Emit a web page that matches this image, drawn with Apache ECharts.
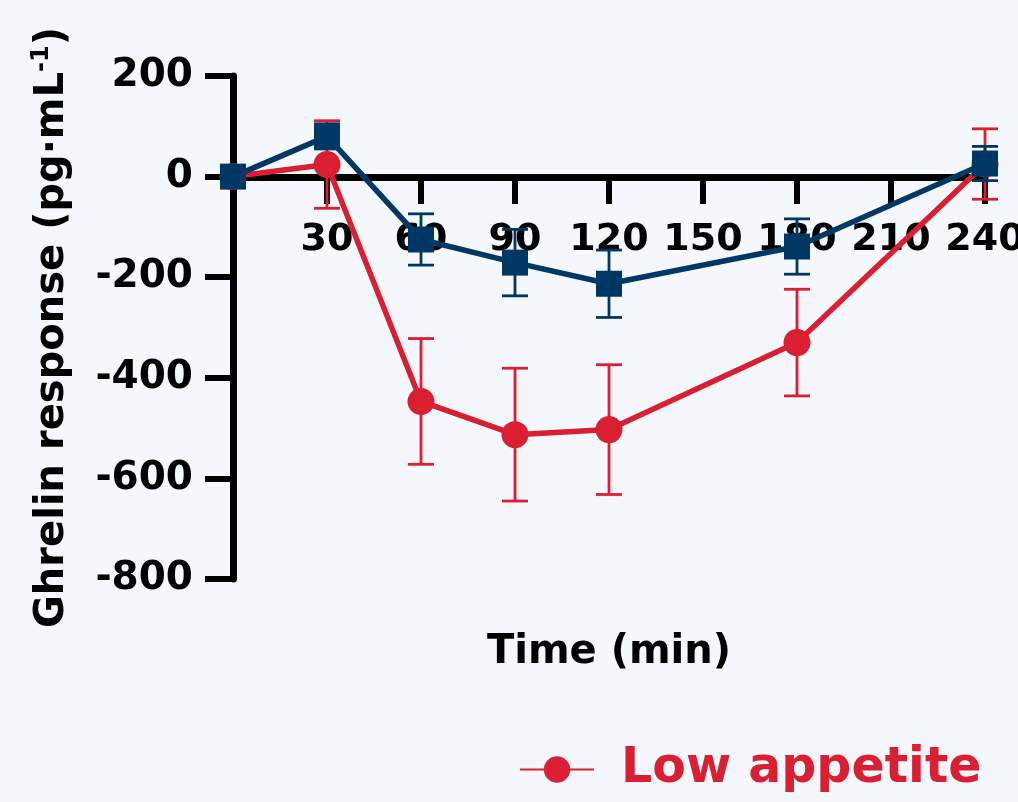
<!DOCTYPE html>
<html>
<head>
<meta charset="utf-8">
<script src="https://cdn.jsdelivr.net/npm/echarts@6/dist/echarts.min.js"></script>
<style>
html,body{margin:0;padding:0;background:#f4f8fc;}
#chart{width:1018px;height:802px;}
</style>
</head>
<body>
<div id="chart"></div>
<script>
const times = [0, 30, 60, 90, 120, 180, 240];
const lowMean = [0, 24, -447, -513, -503, -330, 25];
const lowErr  = [0, 87, 125, 132, 129, 106, 70];
const otherMean = [0, 80, -125, -171, -213, -139, 26];
const otherErr  = [0, 25, 51, 66, 67, 55, 34];
const xTicks = [30, 60, 90, 120, 150, 180, 210, 240];
const yTicks = [-800, -600, -400, -200, 0, 200];

const RED = '#da1f32';
const BLUE = '#003865';
const FONT = 'DejaVu Sans';

function errData(mean, err) {
  return times.map((t, i) => [t, mean[i] - err[i], mean[i] + err[i]]);
}
function errSeries(mean, err, color, z) {
  return {
    type: 'custom',
    z: z,
    silent: true,
    data: errData(mean, err),
    renderItem: function (params, api) {
      const x = api.value(0);
      const lo = api.coord([x, api.value(1)]);
      const hi = api.coord([x, api.value(2)]);
      const w = 13;
      const style = { stroke: color, lineWidth: 2.8, fill: null };
      return {
        type: 'group',
        children: [
          { type: 'line', shape: { x1: lo[0], y1: lo[1], x2: hi[0], y2: hi[1] }, style: style },
          { type: 'line', shape: { x1: lo[0] - w, y1: lo[1], x2: lo[0] + w, y2: lo[1] }, style: style },
          { type: 'line', shape: { x1: hi[0] - w, y1: hi[1], x2: hi[0] + w, y2: hi[1] }, style: style }
        ]
      };
    }
  };
}

const chart = echarts.init(document.getElementById('chart'));
// grid spans y 76..579 for -800..200; the zero line sits 402px above the bottom
chart.setOption({
  backgroundColor: '#f4f8fc',
  animation: false,
  grid: { left: 233, right: 33, top: 76, bottom: 223, containLabel: false, outerBoundsMode: 'none' },
  legend: {
    data: ['Low appetite'],
    left: 514, top: 740,
    itemWidth: 74, itemHeight: 33,
    textStyle: { color: RED, fontSize: 49, fontWeight: 'bold', fontFamily: FONT, padding: [0, 0, 0, 22] }
  },
  xAxis: {
    type: 'value', min: 0, max: 240, interval: 30,
    offset: -402,
    name: 'Time (min)', nameLocation: 'middle', nameGap: 456,
    nameTextStyle: { color: '#000', fontSize: 40, fontWeight: 'bold', fontFamily: FONT },
    axisLine: { onZero: false, lineStyle: { color: '#000', width: 7 } },
    axisTick: { length: 27, lineStyle: { color: '#000', width: 6 } },
    axisLabel: {
      margin: 44, color: '#000', fontSize: 38, fontWeight: 'bold', fontFamily: FONT,
      formatter: v => xTicks.indexOf(v) >= 0 ? String(v) : ''
    },
    splitLine: { show: false }
  },
  yAxis: {
    type: 'value', min: -800, max: 200, interval: 200,
    name: 'Ghrelin response (pg·mL{sup|-1})', nameLocation: 'middle', nameGap: 157,
    nameTextStyle: {
      color: '#000', fontSize: 40, fontWeight: 'bold', fontFamily: FONT,
      rich: { sup: { fontSize: 24, fontWeight: 'bold', fontFamily: FONT, color: '#000', verticalAlign: 'top', padding: [0, 0, 22, 0] } }
    },
    axisLine: { show: true, lineStyle: { color: '#000', width: 7 } },
    axisTick: { show: true, length: 28, lineStyle: { color: '#000', width: 6 } },
    axisLabel: {
      margin: 40, color: '#000', fontSize: 39, fontWeight: 'bold', fontFamily: FONT,
      formatter: v => yTicks.indexOf(v) >= 0 ? String(v) : ''
    },
    splitLine: { show: false }
  },
  series: [
    errSeries(lowMean, lowErr, RED, 2),
    {
      name: 'Low appetite', type: 'line', z: 3,
      data: times.map((t, i) => [t, lowMean[i]]),
      symbol: 'circle', symbolSize: 27,
      lineStyle: { color: RED, width: 5.5 },
      itemStyle: { color: RED }
    },
    errSeries(otherMean, otherErr, BLUE, 4),
    {
      name: 'Other', type: 'line', z: 5,
      data: times.map((t, i) => [t, otherMean[i]]),
      symbol: 'rect', symbolSize: 26,
      lineStyle: { color: BLUE, width: 5.5 },
      itemStyle: { color: BLUE }
    }
  ]
});
</script>
</body>
</html>
